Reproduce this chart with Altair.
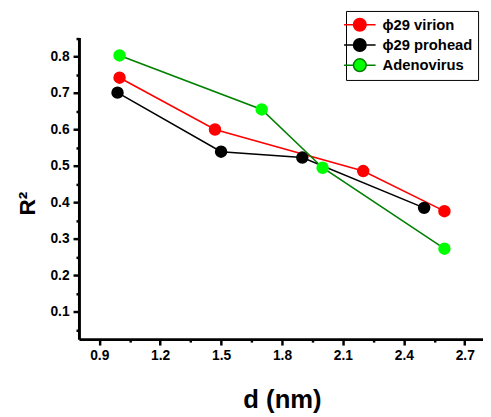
import altair as alt
import pandas as pd

series_names = ["ϕ29 virion", "ϕ29 prohead", " Adenovirus"]
virion_x = [1.0, 1.47, 2.2, 2.6]
virion_y = [0.742, 0.600, 0.486, 0.376]
prohead_x = [0.99, 1.5, 1.9, 2.5]
prohead_y = [0.701, 0.539, 0.523, 0.385]
adeno_x = [1.0, 1.7, 2.0, 2.6]
adeno_y = [0.803, 0.655, 0.495, 0.273]

line_colors = ["#FF0000", "#000000", "#008000"]
marker_colors = ["#FF0000", "#000000", "#00FF00"]

x_ticks = [0.9, 1.05, 1.2, 1.35, 1.5, 1.65, 1.8, 1.95, 2.1, 2.25, 2.4, 2.55, 2.7]
y_ticks = [0.05, 0.1, 0.15, 0.2, 0.25, 0.3, 0.35, 0.4, 0.45, 0.5, 0.55, 0.6, 0.65, 0.7, 0.75, 0.8, 0.85]

rows = []
for name, xs, ys in zip(series_names, [virion_x, prohead_x, adeno_x], [virion_y, prohead_y, adeno_y]):
    for i, (xv, yv) in enumerate(zip(xs, ys)):
        rows.append({"series": name, "d": xv, "r2": yv, "order": i})
df = pd.DataFrame(rows)

FONT = "Liberation Sans"

x_enc = alt.X(
    "d:Q",
    scale=alt.Scale(domain=[0.8, 2.79], nice=False, zero=False),
    axis=alt.Axis(
        values=x_ticks,
        labelExpr="abs(datum.value/0.3 - round(datum.value/0.3)) < 0.01 ? format(datum.value, '.1f') : ''",
        tickSize={"condition": {"test": "abs(datum.value/0.3 - round(datum.value/0.3)) < 0.01", "value": 6}, "value": 3},
        title="d (nm)",
        titleFontSize=26,
        titleFont=FONT,
        titleFontWeight="bold",
        titleX=206,
        titleY=69,
        titleAlign="center",
        titleBaseline="alphabetic",
        labelFont=FONT,
        labelFontSize=14,
        labelFontWeight="bold",
        labelColor="black",
        labelPadding=4,
        labelOverlap=False,
        domainColor="black",
        domainWidth=3,
        tickColor="black",
        tickWidth=2.5,
        grid=False,
    ),
)
y_enc = alt.Y(
    "r2:Q",
    scale=alt.Scale(domain=[0.025, 0.852], nice=False, zero=False),
    axis=alt.Axis(
        values=y_ticks,
        labelExpr="abs(datum.value*10 - round(datum.value*10)) < 0.01 ? format(datum.value, '.1f') : ''",
        tickSize={"condition": {"test": "abs(datum.value*10 - round(datum.value*10)) < 0.01", "value": 6}, "value": 3},
        title="R²",
        titleFontSize=23,
        titleFont=FONT,
        titleFontWeight="bold",
        titleAngle=-90,
        titleX=-52,
        titleY=168,
        titleAlign="center",
        titleBaseline="middle",
        labelFont=FONT,
        labelFontSize=14,
        labelFontWeight="bold",
        labelColor="black",
        labelPadding=4,
        labelOverlap=False,
        domainColor="black",
        domainWidth=3,
        tickColor="black",
        tickWidth=2.5,
        grid=False,
    ),
)

legend_kw = dict(
    title=None,
    orient="none",
    legendX=271,
    legendY=-27,
    padding=5,
    strokeColor="black",
    fillColor="white",
    symbolType="M-2,0L-0.82,0M0.82,0L2,0M-0.8,0A0.8,0.8,0,1,0,0.8,0A0.8,0.8,0,1,0,-0.8,0Z",
    symbolSize=256,
    symbolStrokeWidth=1.5,
    symbolOpacity=1,
    labelFont=FONT,
    labelFontSize=15,
    labelFontWeight="bold",
    labelColor="black",
    labelOffset=14,
    rowPadding=0.5,
)

base = alt.Chart(df).encode(x=x_enc, y=y_enc)

lines = base.mark_line(strokeWidth=1.6).encode(
    order="order:Q",
    stroke=alt.Stroke("series:N", scale=alt.Scale(domain=series_names, range=line_colors),
                      legend=alt.Legend(**legend_kw)),
)

points = base.mark_circle(size=160, opacity=1).encode(
    fill=alt.Fill("series:N", scale=alt.Scale(domain=series_names, range=marker_colors),
                  legend=alt.Legend(**legend_kw)),
)

chart = alt.layer(lines, points).properties(
    width=410,
    height=306,
    autosize=alt.AutoSizeParams(type="none"),
    padding={"left": 72, "top": 27, "right": 0, "bottom": 76},
    background="white",
).configure_view(stroke=None)

chart.save("out.html", embed_options={"renderer": "svg", "actions": False})
